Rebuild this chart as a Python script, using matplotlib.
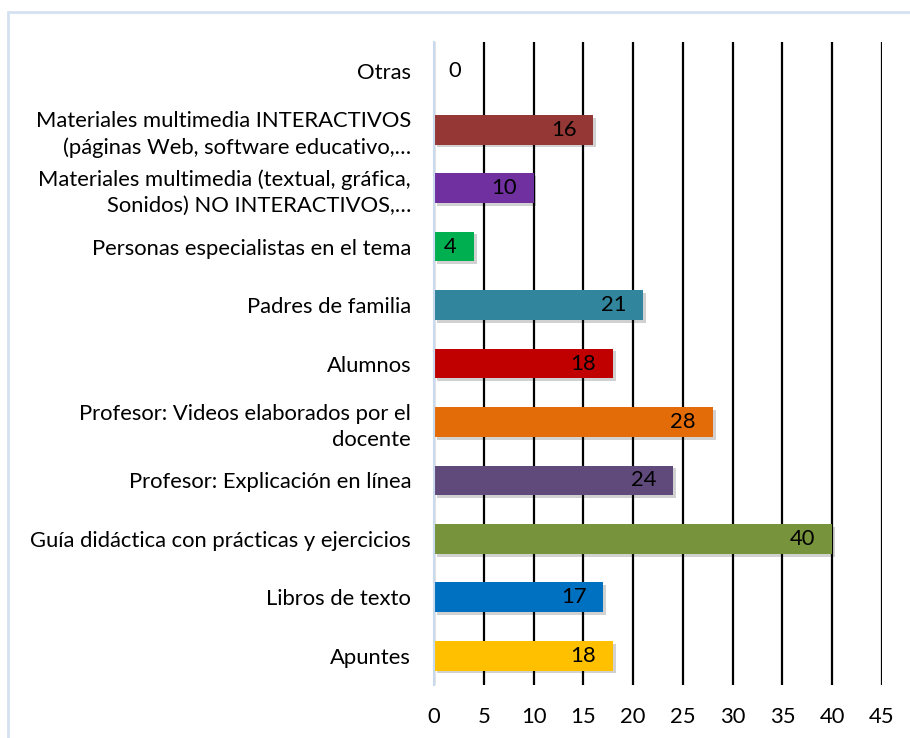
import matplotlib.pyplot as plt
import matplotlib.patheffects as pe
from matplotlib.patches import Rectangle

categories = [
    "Apuntes",
    "Libros de texto",
    "Guía didáctica con prácticas y ejercicios",
    "Profesor: Explicación en línea",
    "Profesor: Videos elaborados por el\ndocente",
    "Alumnos",
    "Padres de familia",
    "Personas especialistas en el tema",
    "Materiales multimedia (textual, gráfica,\nSonidos) NO INTERACTIVOS,…",
    "Materiales multimedia INTERACTIVOS\n(páginas Web, software educativo,…",
    "Otras",
]
values = [18, 17, 40, 24, 28, 18, 21, 4, 10, 16, 0]
colors = [
    "#FFC000", "#0070C0", "#77933C", "#604A7B", "#E36C09",
    "#C00000", "#31859C", "#00B050", "#7030A0", "#953735", "#7F7F7F",
]
x_ticks = list(range(0, 50, 5))

plt.rcParams["font.family"] = ["Lato", "DejaVu Sans"]
FS = 15.8

fig = plt.figure(figsize=(9.1, 7.38), dpi=100)
ax = fig.add_axes([434 / 910, 1 - 685 / 738, (882 - 434) / 910, (685 - 42) / 738])

# light border around the chart area
fig.patches.append(Rectangle((8 / 910, -0.1), 1.2, 1 - 12 / 738 + 0.1,
                             transform=fig.transFigure, fill=False,
                             edgecolor="#D5E0F0", linewidth=2))

ypos = range(len(categories))
bars = ax.barh(ypos, values, height=0.51, color=colors, zorder=3)
for b in bars:
    b.set_path_effects([pe.SimplePatchShadow(offset=(2, -2), alpha=0.18, shadow_rgbFace="black"), pe.Normal()])

for y, v in zip(ypos, values):
    if v == 0:
        ax.text(2.1, y, "0", ha="center", va="center", fontsize=FS, zorder=4)
    else:
        ax.text(v - 1.7, y, str(v), ha="right", va="center", fontsize=FS, zorder=4)

ax.set_xlim(0, 45)
ax.set_ylim(-0.5, len(categories) - 0.5)
ax.set_xticks(x_ticks)
ax.set_xticklabels([str(t) for t in x_ticks], fontsize=FS)
ax.set_yticks(list(ypos))
ax.set_yticklabels(categories, fontsize=FS, linespacing=1.35)
ax.tick_params(axis="both", length=0)
ax.tick_params(axis="x", pad=16)
ax.tick_params(axis="y", pad=16.5)

ax.grid(axis="x", color="black", linewidth=1.6, zorder=0)
for s in ["top", "right", "bottom"]:
    ax.spines[s].set_visible(False)
ax.spines["left"].set_color("#C9D9EE")
ax.spines["left"].set_linewidth(1.5)
ax.spines["left"].set_zorder(5)

fig.savefig("out.png", dpi=100)
